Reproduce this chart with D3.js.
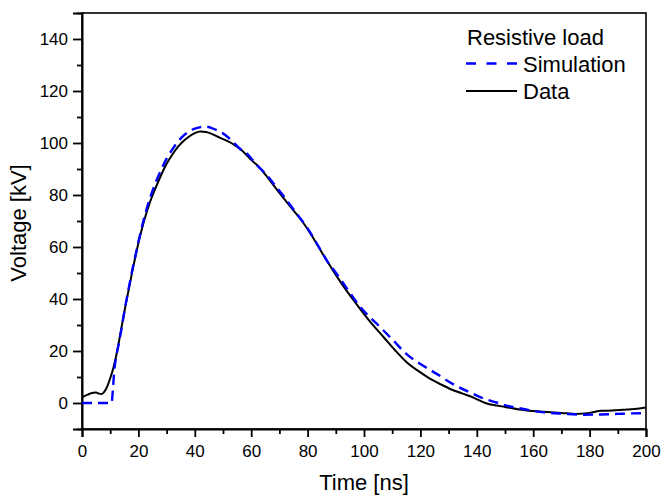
<!DOCTYPE html>
<html><head><meta charset="utf-8">
<script src="https://cdn.jsdelivr.net/npm/d3@7"></script>
<style>html,body{margin:0;padding:0;background:#fff;}svg{display:block;font-family:"Liberation Sans",Arial,sans-serif;}</style>
</head><body>
<svg id="chart" width="662" height="498"></svg>
<script>
// ---- data ----
const dataTime = [0,2,4,5,6,7,8,9,10,11,12,13,14,15,16,17,18,19,20,22,24,26,28,30,32,34,36,38,40,42,44,46,48,50,52,54,56,58,60,63,66,70,74,78,81,85,89,92,97,102,107,111,115,120,124,127,131,135,139,143,147,150,155,160,165,170,175,180,184,188,192,196,200];
const dataVoltage = [2.2,3.2,3.9,4.0,3.6,3.5,4.5,6.5,9.5,13,17.5,23,29,35,40.5,46,51.5,56.5,61.5,70,77,82.5,87.5,92,95.5,98.5,100.8,102.5,103.8,104.4,104.2,103.5,102.5,101.5,100.5,99.3,97.8,95.8,93.5,90.5,86.5,80.8,75.4,70,65.2,58,51,46,38.5,31.5,25.3,20.3,15.8,11.8,9,7.3,5.2,3.6,2,0,-1,-1.5,-2.5,-3.1,-3.5,-3.8,-4.2,-3.8,-3,-2.9,-2.6,-2.3,-1.7];
const simTime = [0,10.5,11,11.5,12,13,14,15,16,17,18,19,20,22,24,26,28,30,32,34,36,38,40,42,44,46,48,50,53,56,58.4,62,65.5,69,72.6,76,79.7,84,87,90.3,94,99,104.5,110,115,120,125.8,132,138.8,143,147,150.6,155,160,163.9,170,178,184,189.6,195,200];
const simVoltage = [0,0,6,13,17,22.5,28.5,35,41,46.5,52,57,62,71,78.5,84.5,89.5,94,97.5,100.5,102.8,104.5,105.5,106.1,106.3,105.7,104.8,103.7,101,97.8,96,91.5,87.7,83,78,73,67.7,60,54.5,49.7,44,36.5,30.5,24.5,18.9,15,11.2,7,3.5,1.5,0.2,-1,-2,-3,-3.6,-4.1,-4.5,-4.4,-4.2,-4,-3.9];
const xTickValues = [0,20,40,60,80,100,120,140,160,180,200];
const yTickValues = [0,20,40,60,80,100,120,140];
const legendTitle = "Resistive load";
const seriesNames = ["Simulation","Data"];
const xTitle = "Time [ns]";
const yTitle = "Voltage [kV]";

// ---- layout ----
const L = 82, R = 646, T = 13, B = 429;
const svg = d3.select("#chart");
const x = d3.scaleLinear().domain([0,200]).range([L,R]);
const y = d3.scaleLinear().domain([-10,150]).range([B,T]);

// minor ticks
const xMinor = d3.range(10,200,20);
const yMinor = d3.range(-10,151,20);

const g = svg.append("g");
// frame
g.append("rect").attr("x",L).attr("y",T).attr("width",R-L).attr("height",B-T)
  .attr("fill","none").attr("stroke","#000").attr("stroke-width",1.6);

// x axis
const xAxis = g.append("g").attr("transform",`translate(0,${B})`)
  .call(d3.axisBottom(x).tickValues(xTickValues).tickSize(8).tickPadding(8).tickFormat(d3.format("d")));
xAxis.select(".domain").attr("stroke-width",2);
xAxis.selectAll(".tick line").attr("stroke-width",1.8);
xAxis.selectAll("text").attr("font-size",17).attr("fill","#000").attr("font-family","Liberation Sans, Arial, sans-serif");
g.append("g").attr("transform",`translate(0,${B})`)
  .call(d3.axisBottom(x).tickValues(xMinor).tickSize(5).tickFormat(""))
  .call(s=>s.select(".domain").remove())
  .selectAll(".tick line").attr("stroke-width",1.8);

// y axis
const yAxis = g.append("g").attr("transform",`translate(${L},0)`)
  .call(d3.axisLeft(y).tickValues(yTickValues).tickSize(9).tickPadding(5).tickFormat(d3.format("d")));
yAxis.select(".domain").attr("stroke-width",2);
yAxis.selectAll(".tick line").attr("stroke-width",1.8);
yAxis.selectAll("text").attr("font-size",17).attr("fill","#000").attr("font-family","Liberation Sans, Arial, sans-serif");
g.append("g").attr("transform",`translate(${L},0)`)
  .call(d3.axisLeft(y).tickValues(yMinor).tickSize(5).tickFormat(""))
  .call(s=>s.select(".domain").remove())
  .selectAll(".tick line").attr("stroke-width",1.8);

// axis titles
svg.append("text").attr("x",(L+R)/2).attr("y",490).attr("text-anchor","middle")
  .attr("font-size",22).attr("fill","#000").text(xTitle);
svg.append("text").attr("transform",`translate(26,${(T+B)/2+2}) rotate(-90)`).attr("text-anchor","middle")
  .attr("font-size",22).attr("fill","#000").text(yTitle);

// lines
const lineGen = d3.line().x(d=>x(d[0])).y(d=>y(d[1])).curve(d3.curveMonotoneX);
const clip = svg.append("clipPath").attr("id","clip").append("rect").attr("x",L).attr("y",T).attr("width",R-L).attr("height",B-T);
const simPts = simTime.map((t,i)=>[t,simVoltage[i]]);
const dataPts = dataTime.map((t,i)=>[t,dataVoltage[i]]);
svg.append("path").attr("d",lineGen(dataPts)).attr("fill","none").attr("stroke","#000")
  .attr("stroke-width",2).attr("clip-path","url(#clip)");
svg.append("path").attr("d",lineGen(simPts)).attr("fill","none").attr("stroke","#0000ff")
  .attr("stroke-width",2.4).attr("stroke-dasharray","10,6").attr("clip-path","url(#clip)");

// legend
const lg = svg.append("g");
lg.append("text").attr("x",467).attr("y",45).attr("font-size",22).attr("fill","#000").text(legendTitle);
lg.append("line").attr("x1",466).attr("x2",517).attr("y1",63.5).attr("y2",63.5)
  .attr("stroke","#0000ff").attr("stroke-width",2.4).attr("stroke-dasharray","10,10.5");
lg.append("text").attr("x",523).attr("y",72).attr("font-size",22).attr("fill","#000").text(seriesNames[0]);
lg.append("line").attr("x1",466).attr("x2",517).attr("y1",91).attr("y2",91)
  .attr("stroke","#000").attr("stroke-width",2);
lg.append("text").attr("x",523).attr("y",99).attr("font-size",22).attr("fill","#000").text(seriesNames[1]);
</script>
</body></html>
